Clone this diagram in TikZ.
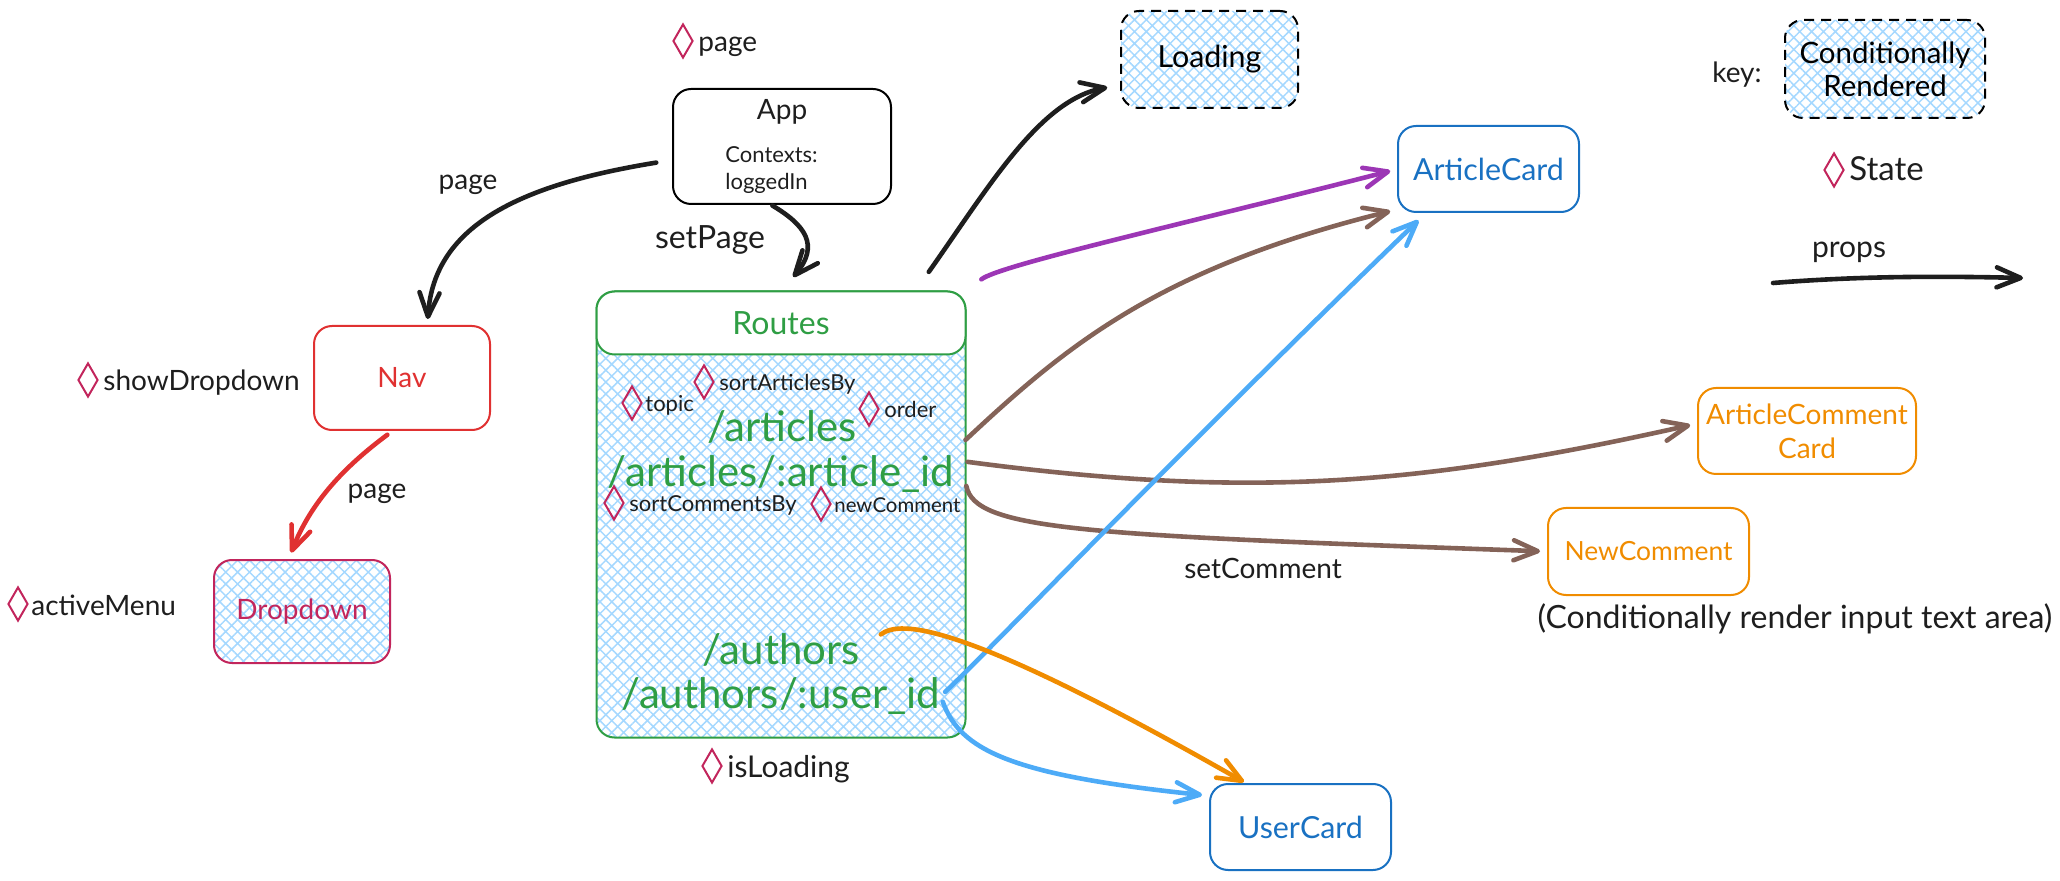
\documentclass[tikz,border=0pt]{standalone}
\usepackage{fontspec}
\setmainfont{Lato}
\usetikzlibrary{arrows.meta,patterns.meta,positioning,shapes.geometric}
\definecolor{inkblack}{HTML}{1E1E1E}
\definecolor{hatchblue}{HTML}{A5D8FF}
\definecolor{statepink}{HTML}{C2255C}
\definecolor{navred}{HTML}{E03131}
\definecolor{routegreen}{HTML}{2F9E44}
\definecolor{cardblue}{HTML}{1971C2}
\definecolor{cardorange}{HTML}{F08C00}
\definecolor{linepurple}{HTML}{9C36B5}
\definecolor{linebrown}{HTML}{846358}
\definecolor{lineblue}{HTML}{4DABF7}
\tikzset{
  box/.style={draw,rounded corners=9pt,line width=1pt,outer sep=0pt,inner sep=0pt,align=center,font=\fontsize{14}{17}\selectfont},
  widebox/.style={box,font=\fontsize{15.2}{16.5}\selectfont},
  hatched/.style={pattern={Hatch[angle=45,distance=4.2pt,line width=.75pt]},pattern color=hatchblue},
  dashline/.style={dash pattern=on 5pt off 3.5pt},
  statemark/.style={draw=statepink,diamond,line width=1pt,inner sep=0pt,minimum width=10pt,minimum height=17pt},
  lbl/.style={inner sep=0pt,font=\fontsize{14}{18}\selectfont,text=inkblack},
  statelbl/.style={lbl,text height=10pt,text depth=3pt,yshift=-2pt},
  smalllbl/.style={lbl,font=\fontsize{11}{13.5}\selectfont},
  smallstate/.style={smalllbl,text height=8pt,text depth=2.5pt,yshift=-1.5pt},
  biglbl/.style={inner sep=0pt,font=\fontsize{21}{24}\selectfont,text=routegreen},
  link/.style={line width=2.3pt,line cap=round,-{Straight Barb[length=12pt,width=10pt,round]},color=inkblack},
}
\begin{document}
\begin{tikzpicture}[x=.5pt,y=-.5pt]
\useasboundingbox (0,0) rectangle (2060,881);

\node[box,minimum width=109pt,minimum height=57.5pt] (app) at (782,146.5) {};
\node[lbl] (apptitle) at (782,112) {App};
\node[smalllbl,align=left,anchor=north west] (appctx) at (725,146) {Contexts:\\loggedIn};
\node[statemark] (pagemark) at (683,41) {};
\node[statelbl,right=2pt of pagemark] (pagestate) {page};

\node[widebox,hatched,dashline,minimum width=88.5pt,minimum height=48.5pt] (loading) at (1209.5,59.5) {Loading};
\node[widebox,color=cardblue,minimum width=90.5pt,minimum height=43pt] (articlecard) at (1488.5,169) {ArticleCard};

\node[lbl] (keylbl) at (1737,75) {key:};
\node[box,font=\fontsize{14.7}{16.5}\selectfont,hatched,dashline,minimum width=100pt,minimum height=49pt] (keybox) at (1885,69) {Conditionally\\Rendered};
\node[statemark] (keymark) at (1834,170) {};
\node[statelbl,font=\fontsize{16.5}{18}\selectfont,right=2pt of keymark] (keystate) {State};
\node[lbl,font=\fontsize{15}{18}\selectfont] (propslbl) at (1849,252) {props};
\coordinate (propsa) at (1773,283);
\coordinate (propsb) at (2023,278);

\node[box,color=navred,minimum width=88pt,minimum height=52pt] (nav) at (402,378) {Nav};
\node[statemark] (navmark) at (88,380) {};
\node[statelbl,right=2pt of navmark] (navstate) {showDropdown};
\node[box,hatched,draw=statepink,text=statepink,minimum width=88pt,minimum height=51.5pt] (dropdown) at (302,611.5) {Dropdown};
\node[statemark] (menumark) at (18,604) {};
\node[statelbl,right=1pt of menumark] (menustate) {activeMenu};

\begin{scope}
\node[box,hatched,draw=routegreen,minimum width=184.5pt,minimum height=223pt] (routes) at (781,514.5) {};
\node[box,fill=white,draw=routegreen,text=routegreen,font=\fontsize{16}{18}\selectfont,minimum width=184.5pt,minimum height=31.5pt] (routeshead) at (781,323) {Routes};
\node[biglbl] (articles) at (782,427) {/articles};
\node[biglbl] (articleid) at (781,474) {/articles/:article\_id};
\node[biglbl] (authors) at (781,650) {/authors};
\node[biglbl] (userid) at (781,696) {/authors/:user\_id};
\end{scope}

\node[statemark] (topicmark) at (632,403) {};
\node[smallstate,right=1pt of topicmark] (topicstate) {topic};
\node[statemark] (sortamark) at (704,382) {};
\node[smallstate,right=2pt of sortamark] (sortastate) {sortArticlesBy};
\node[statemark] (ordermark) at (869,409) {};
\node[smallstate,right=2pt of ordermark] (orderstate) {order};
\node[statemark] (sortcmark) at (614,503) {};
\node[smallstate,right=2pt of sortcmark] (sortcstate) {sortCommentsBy};
\node[statemark] (newcmark) at (821,504) {};
\node[smallstate,font=\fontsize{10.2}{12}\selectfont,right=1pt of newcmark] (newcstate) {newComment};
\node[statemark] (loadmark) at (712,766) {};
\node[statelbl,font=\fontsize{15}{18}\selectfont,right=2pt of loadmark] (loadstate) {isLoading};

\node[box,color=cardorange,minimum width=109pt,minimum height=43pt] (commentcard) at (1807,431) {ArticleComment\\Card};
\node[box,color=cardorange,font=\fontsize{13.2}{16}\selectfont,minimum width=100.5pt,minimum height=43.5pt] (newcomment) at (1648.5,551.5) {NewComment};
\node[lbl,font=\fontsize{16}{18}\selectfont] (rendernote) at (1795,619) {(Conditionally render input text area)};
\node[widebox,color=cardblue,minimum width=90.5pt,minimum height=43pt] (usercard) at (1300.5,827) {UserCard};

\node[lbl] (pagea) at (468,185) {page};
\node[lbl,font=\fontsize{16}{18}\selectfont] (setpage) at (710,240) {setPage};
\node[lbl] (pageb) at (377,494) {page};
\node[lbl] (setcomment) at (1263,568) {setComment};

\draw[link,shorten <=8.5pt,shorten >=3.5pt] (app.187) .. controls (525,184) and (434,223) .. (nav.64);
\draw[link,shorten <=1.5pt,shorten >=9.5pt] (app.258) .. controls (805,225) and (820,245) .. (routes.north);
\draw[link,shorten <=12pt,shorten >=7pt] (routes.59) .. controls (990,185) and (1040,100) .. (loading.196);
\draw[link,color=linepurple,shorten <=10pt,shorten >=4pt] (routes.north east) .. controls (1000,265) and (1180,225) .. (articlecard.west);
\draw[link,color=linebrown,shorten >=4pt] (routes.22) .. controls (1064,348) and (1156,269) .. (articlecard.204);
\draw[link,color=linebrown,shorten <=1pt,shorten >=4pt] (routes.16) .. controls (1248,499) and (1419,486) .. (commentcard.176);
\draw[link,color=linebrown,shorten <=2pt,shorten >=4pt] (routes.10) .. controls (975,530) and (1080,535) .. (newcomment.west);
\draw[link,color=lineblue,shorten <=3pt,shorten >=6pt] (userid.east) .. controls (990,650) and (1180,450) .. (articlecard.215);
\draw[link,color=cardorange,shorten <=13pt,shorten >=2pt] (authors.east) .. controls (900,620) and (960,620) .. (usercard.141);
\draw[link,color=lineblue,shorten <=3pt,shorten >=4pt] (userid.east) .. controls (960,750) and (1010,775) .. (usercard.161);
\draw[link,color=navred,shorten <=4pt,shorten >=4pt] (nav.261) .. controls (340,470) and (310,505) .. (dropdown.105);
\draw[link] (propsa) .. controls (1860,276) and (1940,276) .. (propsb);
\end{tikzpicture}
\end{document}
